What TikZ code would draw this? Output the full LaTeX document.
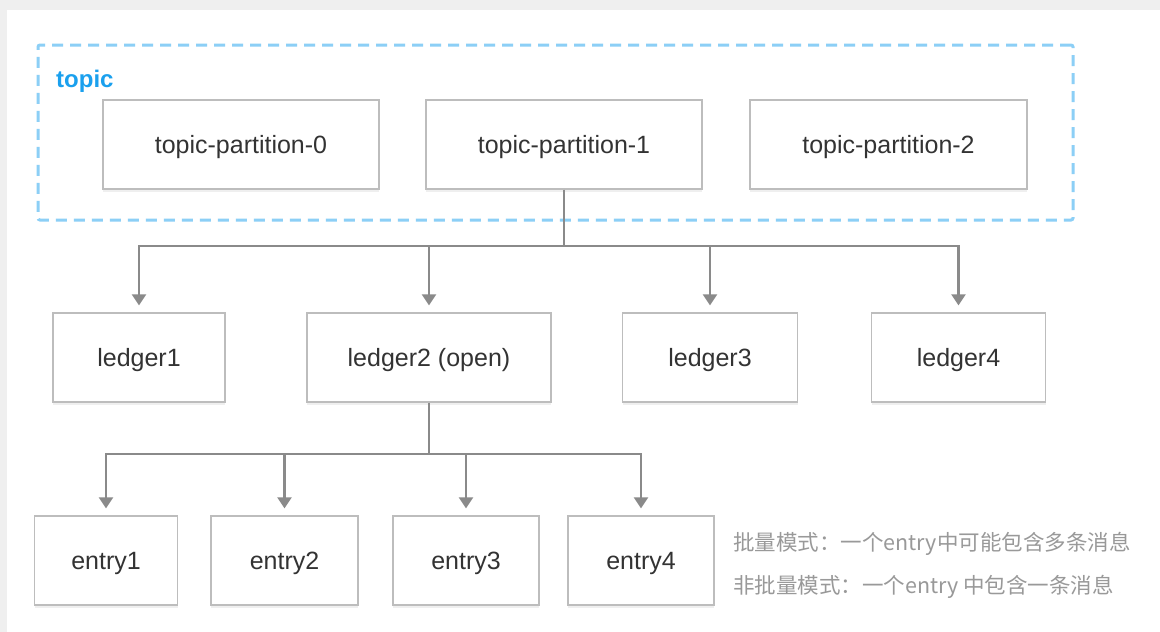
\documentclass[tikz,border=0pt]{standalone}
\usepackage{fontspec}
\setmainfont{Liberation Sans}
\newfontfamily\cjk{Noto Sans CJK SC}
\usetikzlibrary{arrows.meta,shadows}
\definecolor{boxline}{HTML}{BDBDBD}
\definecolor{linkgray}{HTML}{8A8A8A}
\definecolor{topicblue}{HTML}{1AA0EE}
\definecolor{dashblue}{HTML}{8CCFF6}
\definecolor{textgray}{HTML}{333333}
\definecolor{notegray}{HTML}{999999}
\definecolor{pagegray}{HTML}{EFEFEF}

\begin{document}
\begin{tikzpicture}[x=1pt,y=1pt]
\tikzstyle{every node}+=[inner sep=0pt]
\tikzstyle{partbox}=[draw=boxline, line width=1.3pt, fill=white, minimum height=89pt, text depth=0pt, text=textgray, font=\fontsize{25}{30}\selectfont, drop shadow={shadow xshift=0pt, shadow yshift=-2.5pt, opacity=0.12}]
\tikzstyle{link}=[draw=linkgray, line width=2.2pt]
\tikzstyle{arr}=[link, -{Triangle[width=14pt,length=11pt]}, shorten >=7pt]
% page and card
\fill [pagegray] (0,0) rectangle (1160,-632);
\fill [white] (7,-10) rectangle (1160,-632);
\useasboundingbox (0,0) rectangle (1160,-632);
% topic
\node [draw=dashblue, line width=3pt, dash pattern=on 11pt off 7pt, rounded corners=2pt, minimum width=1035pt, minimum height=175pt] (topic) at (555.5,-132.5) {};
\node [anchor=west, text=topicblue, font=\bfseries\fontsize{24}{28}\selectfont] (topiclabel) at (56,-81) {topic};
\node [partbox, minimum width=276pt] (tp0) at (241,-144.5) {topic-partition-0};
\node [partbox, minimum width=276pt] (tp1) at (564,-144.5) {topic-partition-1};
\node [partbox, minimum width=277pt] (tp2) at (888.5,-144.5) {topic-partition-2};
% ledgers
\node [partbox, minimum width=172pt] (l1) at (139,-357.5) {ledger1};
\node [partbox, minimum width=244pt] (l2) at (429,-357.5) {ledger2 (open)};
\node [partbox, minimum width=175pt] (l3) at (710,-357.5) {ledger3};
\node [partbox, minimum width=174pt] (l4) at (958.5,-357.5) {ledger4};
% entries
\node [partbox, minimum width=143pt] (e1) at (106,-560.5) {entry1};
\node [partbox, minimum width=147pt] (e2) at (284.5,-560.5) {entry2};
\node [partbox, minimum width=146pt] (e3) at (466,-560.5) {entry3};
\node [partbox, minimum width=146pt] (e4) at (641,-560.5) {entry4};
% notes
\node [anchor=west, text=notegray, font=\cjk\fontsize{21.5}{25}\selectfont] (note1) at (733,-544) {批量模式：一个entry中可能包含多条消息};
\node [anchor=west, text=notegray, font=\cjk\fontsize{21.5}{25}\selectfont] (note2) at (733,-587) {非批量模式：一个entry 中包含一条消息};
% links
\coordinate (bus1) at (564,-246);
\coordinate (bus2) at (429,-454);
\draw [link] (tp1.south) -- (bus1);
\foreach \n in {l1,l2,l3,l4}
  \draw [arr] (bus1) -| (\n.north);
\draw [link] (l2.south) -- (bus2);
\foreach \n in {e1,e2,e3,e4}
  \draw [arr] (bus2) -| (\n.north);
\end{tikzpicture}
\end{document}
